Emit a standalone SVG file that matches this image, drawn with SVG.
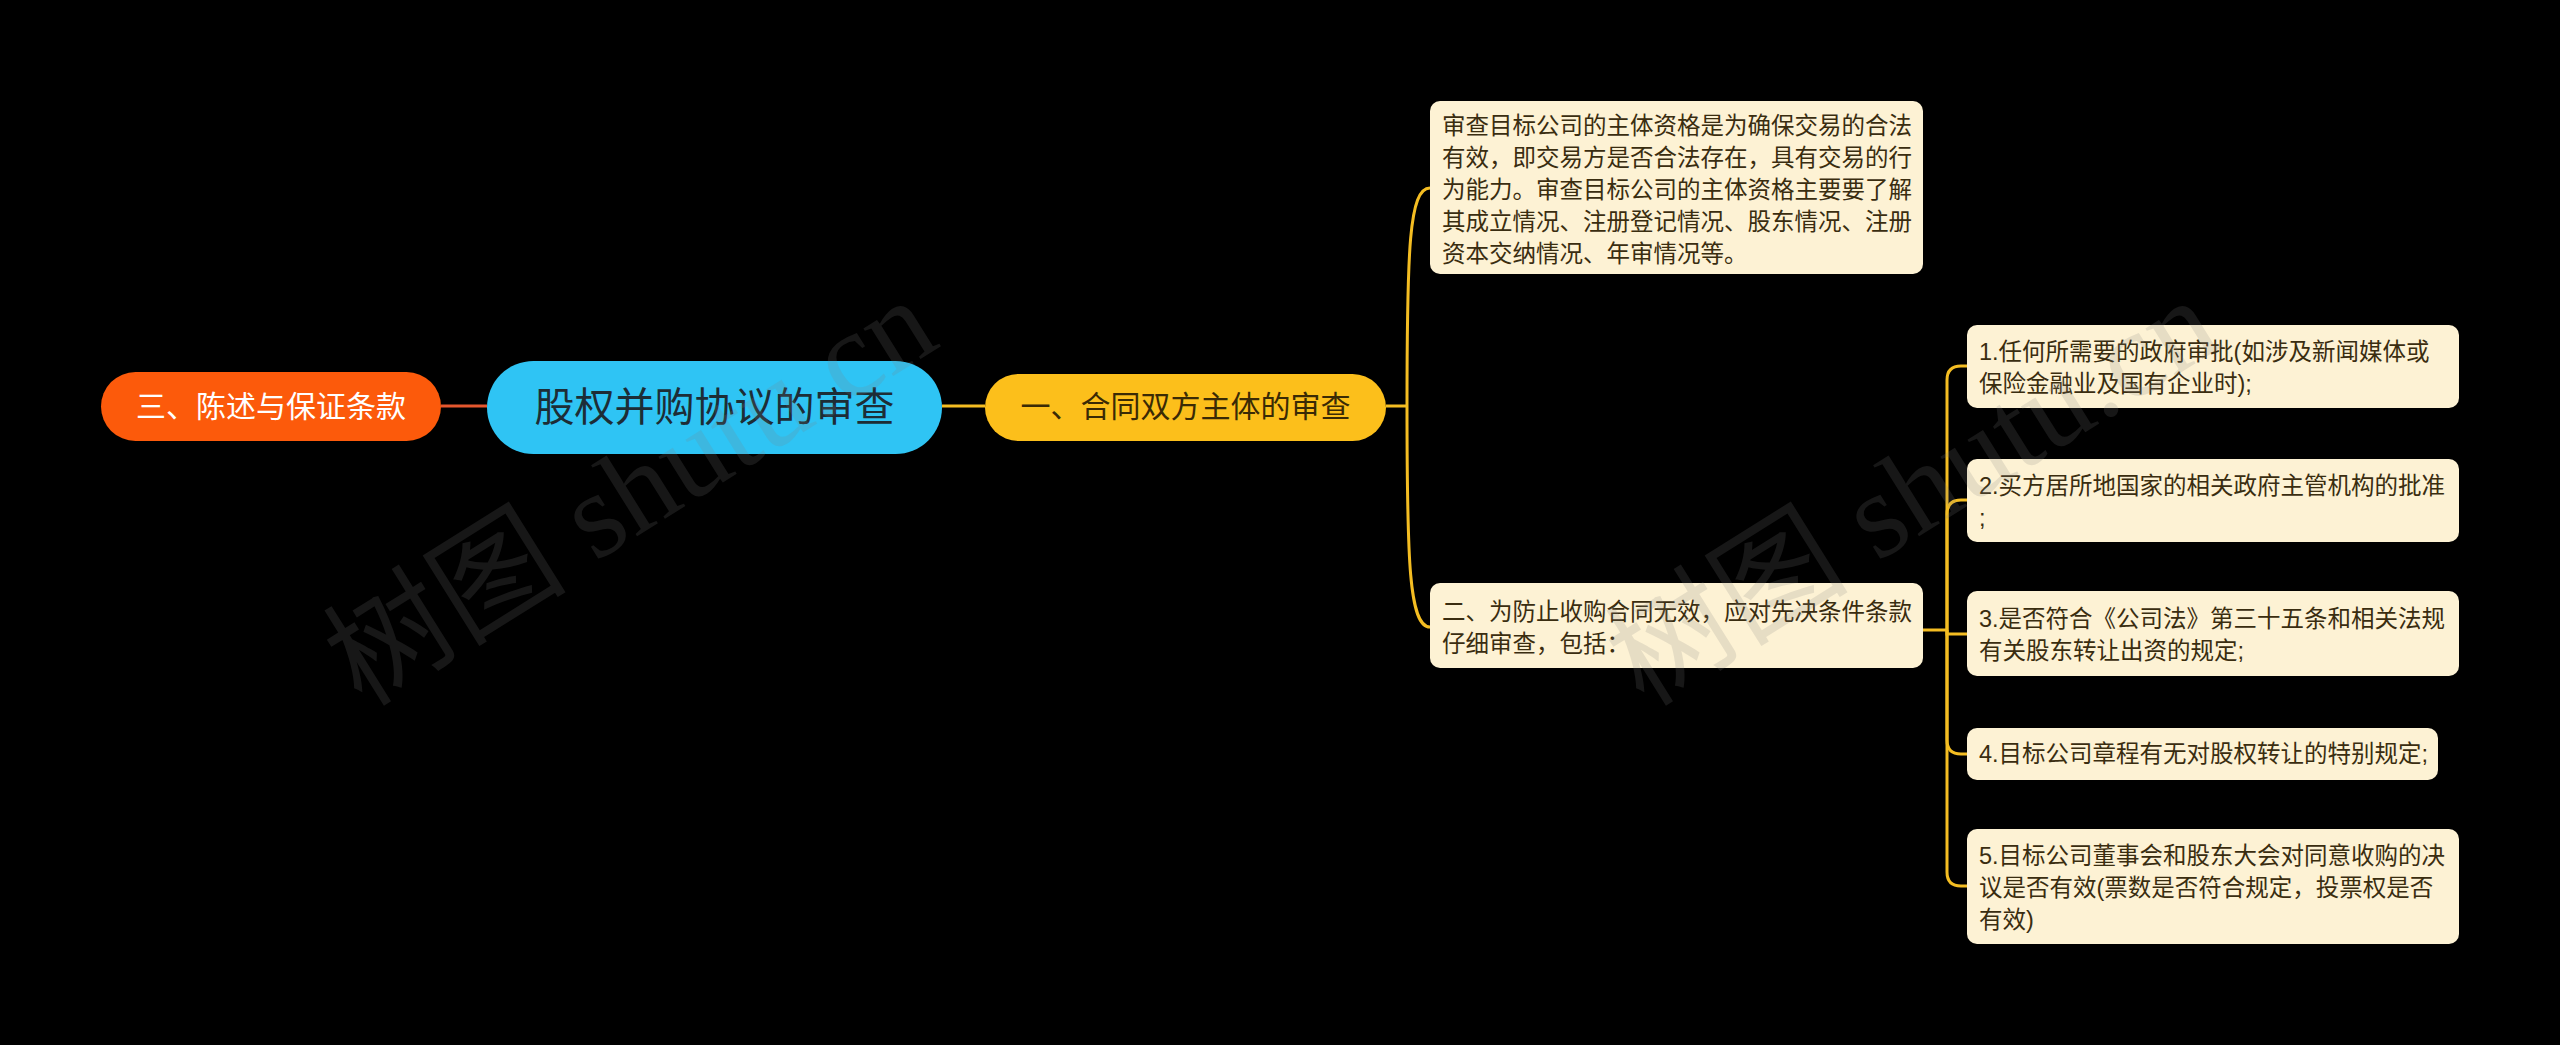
<svg xmlns="http://www.w3.org/2000/svg" width="2560" height="1045" viewBox="0 0 2560 1045">
<style>
.t{font-family:"Liberation Sans","Noto Sans CJK SC",sans-serif}
.box{fill:#fdf2d4}
.bt{font-family:"Liberation Sans","Noto Sans CJK SC",sans-serif;font-size:23.5px;fill:#3a2d10}
.ln{fill:none;stroke:#f4bd22;stroke-width:3}
.wm{font-family:"Liberation Serif","Noto Sans CJK SC",serif;font-size:122px;fill:#808080;fill-opacity:0.18}
</style>
<rect x="0" y="0" width="2560" height="1045" fill="#000"/>
<g id="connectors">
<path d="M441,406 H487" fill="none" stroke="#e4572e" stroke-width="3"/>
<path class="ln" d="M942,406 H985"/>
<path class="ln" d="M1386,406 H1407"/>
<path class="ln" d="M1407,406 C1407,250 1409,188 1430,188"/>
<path class="ln" d="M1407,406 C1407,560 1409,627 1430,627"/>
<path class="ln" d="M1923,630 H1947"/>
<path class="ln" d="M1947,630 V380 Q1947,366 1961,366 H1967"/>
<path class="ln" d="M1947,630 V514 Q1947,500 1961,500 H1967"/>
<path class="ln" d="M1947,630 V634 H1967"/>
<path class="ln" d="M1947,630 V740 Q1947,754 1961,754 H1967"/>
<path class="ln" d="M1947,630 V872 Q1947,886 1961,886 H1967"/>
</g>
<g id="node-left">
<rect x="101" y="372" width="340" height="69" rx="34.5" fill="#fc5a0b"/>
<text class="t" x="271" y="417" font-size="30" fill="#fff" text-anchor="middle">三、陈述与保证条款</text>
</g>
<g id="node-root">
<rect x="487" y="361" width="455" height="93" rx="46.5" fill="#2fc4f4"/>
<text class="t" x="714.5" y="421" font-size="40" fill="#1d2d36" text-anchor="middle">股权并购协议的审查</text>
</g>
<g id="node-1">
<rect x="985" y="374" width="401" height="67" rx="33.5" fill="#fcbf1b"/>
<text class="t" x="1185.5" y="417" font-size="30" fill="#3a2a05" text-anchor="middle">一、合同双方主体的审查</text>
</g>
<g id="node-1a">
<rect class="box" x="1430" y="101" width="493" height="173" rx="10"/>
<text class="bt" x="1442" y="134">审查目标公司的主体资格是为确保交易的合法</text>
<text class="bt" x="1442" y="166">有效，即交易方是否合法存在，具有交易的行</text>
<text class="bt" x="1442" y="198">为能力。审查目标公司的主体资格主要要了解</text>
<text class="bt" x="1442" y="230">其成立情况、注册登记情况、股东情况、注册</text>
<text class="bt" x="1442" y="262">资本交纳情况、年审情况等。</text>
</g>
<g id="node-1b">
<rect class="box" x="1430" y="583" width="493" height="85" rx="10"/>
<text class="bt" x="1442" y="620">二、为防止收购合同无效，应对先决条件条款</text>
<text class="bt" x="1442" y="652">仔细审查，包括：</text>
</g>
<g id="node-c1">
<rect class="box" x="1967" y="325" width="492" height="83" rx="10"/>
<text class="bt" x="1979" y="360">1.任何所需要的政府审批(如涉及新闻媒体或</text>
<text class="bt" x="1979" y="392">保险金融业及国有企业时);</text>
</g>
<g id="node-c2">
<rect class="box" x="1967" y="459" width="492" height="83" rx="10"/>
<text class="bt" x="1979" y="494">2.买方居所地国家的相关政府主管机构的批准</text>
<text class="bt" x="1979" y="526">;</text>
</g>
<g id="node-c3">
<rect class="box" x="1967" y="591" width="492" height="85" rx="10"/>
<text class="bt" x="1979" y="627">3.是否符合《公司法》第三十五条和相关法规</text>
<text class="bt" x="1979" y="659">有关股东转让出资的规定;</text>
</g>
<g id="node-c4">
<rect class="box" x="1967" y="728" width="471" height="52" rx="10"/>
<text class="bt" x="1979" y="762">4.目标公司章程有无对股权转让的特别规定;</text>
</g>
<g id="node-c5">
<rect class="box" x="1967" y="829" width="492" height="115" rx="10"/>
<text class="bt" x="1979" y="864">5.目标公司董事会和股东大会对同意收购的决</text>
<text class="bt" x="1979" y="896">议是否有效(票数是否符合规定，投票权是否</text>
<text class="bt" x="1979" y="928">有效)</text>
</g>
<g id="watermarks">
<text class="wm" transform="translate(362,708) rotate(-32)">树图 shutu.cn</text>
<text class="wm" transform="translate(1644,708) rotate(-32)">树图 shutu.cn</text>
</g>
</svg>
